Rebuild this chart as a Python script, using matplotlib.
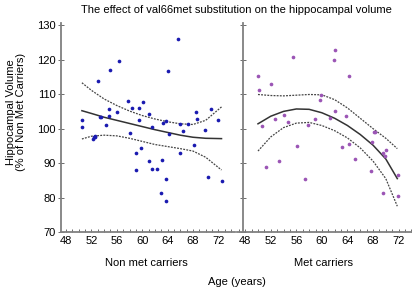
import numpy as np
import matplotlib.pyplot as plt
from matplotlib.ticker import MultipleLocator

plt.rcParams['font.family'] = ['Liberation Sans', 'DejaVu Sans']

# Non met carriers
left_age = [50.5, 50.5, 52.2, 52.4, 52.6, 52.6, 53.1, 53.4, 53.5, 54.3,
            54.7, 54.8, 54.9, 56.3, 56.1, 57.7, 58.0, 58.4, 59.0, 59.1,
            59.5, 59.5, 59.8, 60.2, 61.0, 61.1, 61.5, 61.5, 62.4, 63.0,
            63.1, 63.2, 63.7, 63.7, 63.8, 64.1, 64.2, 65.7, 65.9, 66.0,
            66.4, 67.2, 68.2, 68.5, 68.6, 69.9, 70.4, 70.9, 71.9, 72.5]
left_vol = [102.4, 100.4, 97.0, 97.7, 97.8, 97.5, 113.7, 103.5, 103.3, 101.0,
            105.6, 103.8, 117.0, 119.6, 104.9, 108.0, 98.7, 105.9, 87.9, 93.0,
            106.1, 102.4, 94.5, 107.8, 104.3, 90.6, 100.5, 88.2, 88.2, 81.2,
            90.8, 101.5, 85.3, 79.0, 102.2, 116.8, 98.4, 126.0, 92.8, 101.2,
            99.4, 101.2, 95.3, 104.9, 102.9, 99.6, 85.9, 105.7, 102.4, 84.7]

left_fit_age = [50.5, 52, 54, 56, 58, 60, 62, 64, 66, 68, 70, 72.5]
left_fit = [105.2, 104.4, 103.3, 102.4, 101.5, 100.6, 99.7, 98.9, 98.1, 97.5, 97.2, 97.1]
left_upper = [113.3, 111.1, 108.6, 106.7, 105.1, 103.8, 102.8, 102.0, 101.4, 101.2, 102.4, 106.3]
left_lower = [97.0, 97.8, 98.1, 97.9, 97.2, 96.3, 95.4, 94.8, 94.2, 93.5, 91.7, 88.0]

# Met carriers
right_age = [50.0, 50.1, 50.7, 51.2, 52.0, 52.6, 53.3, 54.1, 54.7, 55.5,
             56.1, 57.4, 57.8, 58.9, 59.7, 59.9, 61.2, 61.9, 62.1, 62.1,
             63.1, 63.8, 64.2, 64.2, 65.2, 67.7, 67.9, 68.1, 68.3, 69.5,
             69.8, 70.0, 69.6, 71.9, 71.9]
right_vol = [115.3, 111.3, 100.9, 88.8, 112.8, 102.8, 90.6, 104.0, 101.8, 120.9,
             94.9, 85.3, 101.0, 102.9, 108.4, 109.8, 103.0, 119.8, 122.8, 105.2,
             94.8, 103.6, 115.4, 95.6, 91.2, 87.7, 96.0, 99.1, 99.1, 93.0,
             92.0, 93.8, 81.2, 86.6, 80.4]

right_fit_age = [50, 52, 54, 56, 58, 60, 62, 64, 66, 68, 70, 71.8]
right_fit = [101.4, 103.6, 105.0, 105.7, 105.6, 104.6, 103.0, 100.9, 98.3, 95.2, 91.2, 85.5]
right_upper = [109.9, 109.6, 109.5, 109.7, 109.9, 109.8, 108.4, 106.0, 103.0, 100.0, 97.2, 94.2]
right_lower = [93.5, 97.6, 100.3, 101.6, 101.8, 100.9, 99.4, 97.3, 94.4, 90.6, 85.5, 77.5]

fig = plt.figure(figsize=(4.12, 2.89), dpi=100)
ax1 = fig.add_axes([0.148, 0.197, 0.422, 0.723])
ax2 = fig.add_axes([0.575, 0.197, 0.425, 0.723])

spine_col = '#808080'
fs = 8

for ax in (ax1, ax2):
    for s in ('top', 'right'):
        ax.spines[s].set_visible(False)
    for s in ('left', 'bottom'):
        ax.spines[s].set_color(spine_col)
        ax.spines[s].set_linewidth(1.3)
    ax.set_ylim(70, 130.6)
    ax.yaxis.set_major_locator(MultipleLocator(10))
    ax.xaxis.set_major_locator(MultipleLocator(4))
    ax.xaxis.set_minor_locator(MultipleLocator(1))
    ax.tick_params(axis='x', which='both', direction='in', length=2,
                   color='#555555', width=0.6, labelsize=fs, pad=3)
    ax.tick_params(axis='y', direction='inout', length=4, color='#555555',
                   width=0.6, labelsize=fs, pad=2)

ax1.set_xlim(47.2, 74.6)
ax2.set_xlim(46.7, 74.1)
ax2.spines['left'].set_position(('data', 47.6))
ax2.tick_params(axis='y', labelleft=False)

# left panel
ax1.scatter(left_age, left_vol, s=7, color='#1a1ab0', linewidths=0, zorder=3)
ax1.plot(left_fit_age, left_fit, color='#333333', lw=1.1)
ax1.plot(left_fit_age, left_upper, color='#444444', lw=0.9, ls=(0, (1.5, 1)))
ax1.plot(left_fit_age, left_lower, color='#444444', lw=0.9, ls=(0, (1.5, 1)))

# right panel
ax2.scatter(right_age, right_vol, s=7, color='#9b55b5', linewidths=0, zorder=3)
ax2.plot(right_fit_age, right_fit, color='#333333', lw=1.1)
ax2.plot(right_fit_age, right_upper, color='#444444', lw=0.9, ls=(0, (1.5, 1)))
ax2.plot(right_fit_age, right_lower, color='#444444', lw=0.9, ls=(0, (1.5, 1)))

fig.text(236 / 412, 1 - 10 / 289, 'The effect of val66met substitution on the hippocampal volume',
         ha='center', va='center', fontsize=fs)
fig.text(146 / 412, 1 - 263 / 289, 'Non met carriers', ha='center', va='center', fontsize=fs)
fig.text(324 / 412, 1 - 263 / 289, 'Met carriers', ha='center', va='center', fontsize=fs)
fig.text(237 / 412, 1 - 282 / 289, 'Age (years)', ha='center', va='center', fontsize=fs)
fig.text(16 / 412, 1 - 112 / 289, 'Hippocampal Volume\n(% of Non Met Carriers)',
         ha='center', va='center', rotation=90, fontsize=fs, linespacing=1.0)

fig.savefig('out.png', dpi=100)
